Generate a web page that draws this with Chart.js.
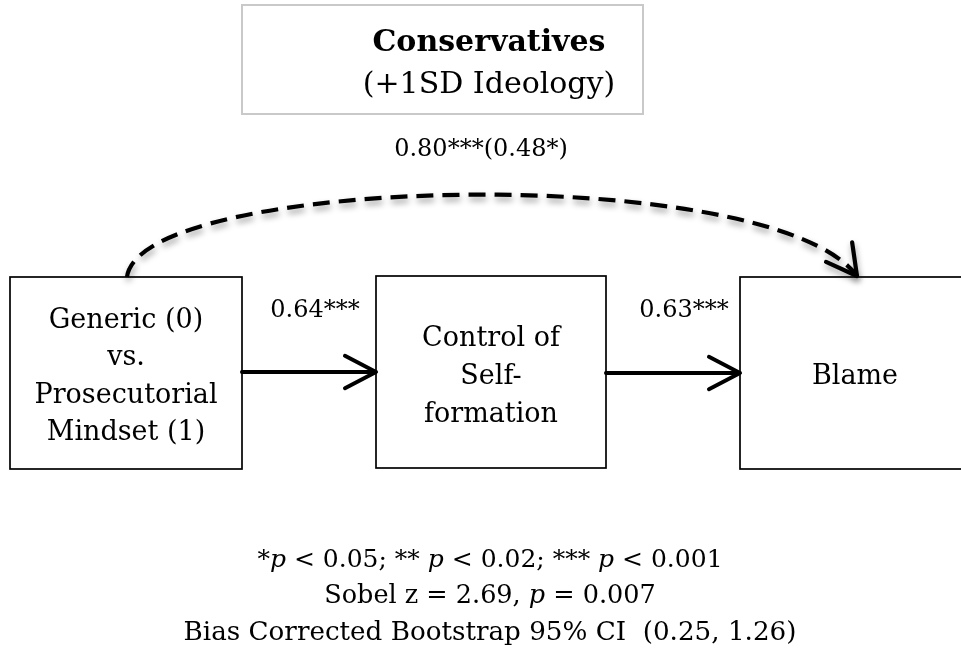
<!DOCTYPE html>
<html>
<head>
<meta charset="utf-8">
<script src="https://cdn.jsdelivr.net/npm/chart.js@4/dist/chart.umd.min.js"></script>
<style>
  html, body { margin: 0; padding: 0; background: #ffffff; }
  #wrap { width: 961px; height: 650px; }
</style>
</head>
<body>
<div id="wrap"><canvas id="c" width="961" height="650"></canvas></div>
<script>
// ---- model content ----
const groupTitle = ['Conservatives', '(+1SD Ideology)'];
const nodeNames = ['predictor', 'mediator', 'outcome'];
const nodeLabels = [
  ['Generic (0)', 'vs.', 'Prosecutorial', 'Mindset (1)'],
  ['Control of', 'Self-', 'formation'],
  ['Blame']
];
const pathNames = ['a', 'b', 'c'];
const pathCoefficients = ['0.64***', '0.63***', '0.80***(0.48*)'];
// underscores mark italic runs
const footnotes = [
  '*_p_ < 0.05; ** _p_ < 0.02; *** _p_ < 0.001',
  'Sobel z = 2.69, _p_ = 0.007',
  'Bias Corrected Bootstrap 95% CI  (0.25, 1.26)'
];

// ---- layout (diagram units, mapped through the chart scales) ----
const layout = {
  title: { box: [242, 5, 643, 114], cx: 489, baselines: [51, 93], sizes: [30, 30] },
  nodes: [
    { box: [10, 277, 242, 469], cx: 126, baselines: [328, 365, 403, 440] },
    { box: [376, 276, 606, 468], cx: 491, baselines: [346, 384, 422] },
    { box: [740, 277, 975, 469], cx: 855, baselines: [384] }
  ],
  paths: [
    { type: 'straight', from: [242, 372], to: [376, 372], label: [315, 317] },
    { type: 'straight', from: [606, 373], to: [740, 373], label: [684, 317] },
    { type: 'curve', from: [127, 277], c1: [140, 175], c2: [770, 160], to: [857, 276], label: [481, 156] }
  ],
  foot: { cx: 490, baselines: [567, 603, 640], sizes: [25, 25.5, 26.2] }
};

const FONT = '"DejaVu Serif", "Liberation Serif", serif';

function drawRich(ctx, text, cx, y, size) {
  const parts = text.split('_');
  const runs = parts.map((t, i) => ({ t, it: i % 2 === 1 }));
  let total = 0;
  runs.forEach(r => {
    ctx.font = (r.it ? 'italic ' : '') + size + 'px ' + FONT;
    r.w = ctx.measureText(r.t).width;
    total += r.w;
  });
  let x = cx - total / 2;
  ctx.textAlign = 'left';
  runs.forEach(r => {
    ctx.font = (r.it ? 'italic ' : '') + size + 'px ' + FONT;
    ctx.fillText(r.t, x, y);
    x += r.w;
  });
}

function chevron(ctx, tip, dx, dy, len, half) {
  const ang = Math.atan2(dy, dx);
  ctx.beginPath();
  ctx.moveTo(tip[0] - len * Math.cos(ang - half), tip[1] - len * Math.sin(ang - half));
  ctx.lineTo(tip[0], tip[1]);
  ctx.lineTo(tip[0] - len * Math.cos(ang + half), tip[1] - len * Math.sin(ang + half));
  ctx.stroke();
}

const pathDiagram = {
  id: 'pathDiagram',
  afterDraw(chart) {
    const ctx = chart.ctx;
    const xs = chart.scales.x, ys = chart.scales.y;
    const P = p => [xs.getPixelForValue(p[0]), ys.getPixelForValue(p[1])];
    ctx.save();
    ctx.fillStyle = '#000';
    ctx.textBaseline = 'alphabetic';

    // title box
    const T = layout.title;
    const t0 = P([T.box[0], T.box[1]]), t1 = P([T.box[2], T.box[3]]);
    ctx.strokeStyle = '#c9c9c9';
    ctx.lineWidth = 2;
    ctx.strokeRect(t0[0], t0[1], t1[0] - t0[0], t1[1] - t0[1]);
    ctx.textAlign = 'center';
    ctx.font = 'bold ' + T.sizes[0] + 'px ' + FONT;
    ctx.fillText(groupTitle[0], P([T.cx, 0])[0], P([0, T.baselines[0]])[1]);
    ctx.font = T.sizes[1] + 'px ' + FONT;
    ctx.fillText(groupTitle[1], P([T.cx, 0])[0], P([0, T.baselines[1]])[1]);

    // node boxes
    nodeNames.forEach((n, i) => {
      const L = layout.nodes[i];
      const a = P([L.box[0], L.box[1]]), b = P([L.box[2], L.box[3]]);
      ctx.strokeStyle = '#000';
      ctx.lineWidth = 1.7;
      ctx.strokeRect(a[0], a[1], b[0] - a[0], b[1] - a[1]);
      ctx.font = '27px ' + FONT;
      ctx.textAlign = 'center';
      nodeLabels[i].forEach((line, k) => {
        ctx.fillText(line, P([L.cx, 0])[0], P([0, L.baselines[k]])[1]);
      });
    });

    // paths
    pathNames.forEach((n, i) => {
      const L = layout.paths[i];
      ctx.strokeStyle = '#000';
      ctx.lineCap = 'round';
      ctx.lineJoin = 'round';
      if (L.type === 'straight') {
        const f = P(L.from), t = P(L.to);
        ctx.lineWidth = 4;
        ctx.setLineDash([]);
        ctx.beginPath();
        ctx.moveTo(f[0], f[1]);
        ctx.lineTo(t[0] - 2, t[1]);
        ctx.stroke();
        chevron(ctx, t, 1, 0, 35, 0.48);
      } else {
        const f = P(L.from), c1 = P(L.c1), c2 = P(L.c2), t = P(L.to);
        ctx.save();
        ctx.shadowColor = 'rgba(0,0,0,0.38)';
        ctx.shadowBlur = 6;
        ctx.shadowOffsetX = 1;
        ctx.shadowOffsetY = 4;
        ctx.lineWidth = 4.2;
        ctx.lineCap = 'butt';
        ctx.setLineDash([17, 9]);
        ctx.beginPath();
        ctx.moveTo(f[0], f[1]);
        ctx.bezierCurveTo(c1[0], c1[1], c2[0], c2[1], t[0], t[1]);
        ctx.stroke();
        ctx.setLineDash([]);
        ctx.lineCap = 'round';
        chevron(ctx, t, t[0] - c2[0], t[1] - c2[1], 34, 0.5);
        ctx.restore();
      }
      const lp = P(L.label);
      ctx.textAlign = 'center';
      ctx.font = '24px ' + FONT;
      ctx.fillText(pathCoefficients[i], lp[0], lp[1]);
    });

    // footnotes
    const F = layout.foot;
    footnotes.forEach((line, k) => {
      drawRich(ctx, line, P([F.cx, 0])[0], P([0, F.baselines[k]])[1], F.sizes[k]);
    });
    ctx.restore();
  }
};

new Chart(document.getElementById('c'), {
  type: 'scatter',
  data: { datasets: [{ data: [], pointRadius: 0 }] },
  options: {
    responsive: false,
    animation: false,
    devicePixelRatio: 1,
    layout: { padding: 0 },
    plugins: { legend: { display: false }, tooltip: { enabled: false }, title: { display: false } },
    scales: {
      x: { type: 'linear', min: 0, max: 961, display: false },
      y: { type: 'linear', min: 0, max: 650, reverse: true, display: false }
    }
  },
  plugins: [pathDiagram]
});
</script>
</body>
</html>
